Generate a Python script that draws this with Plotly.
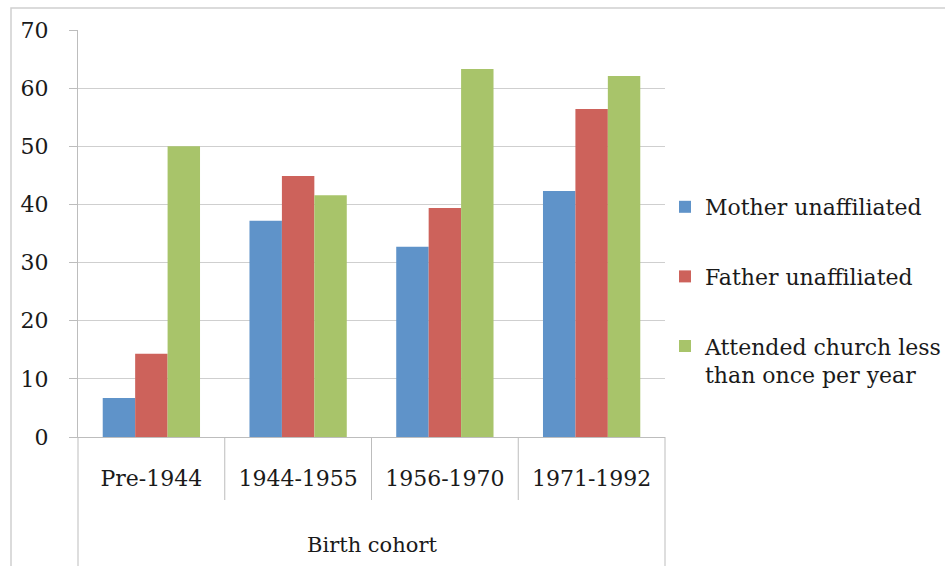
import plotly.graph_objects as go

categories = ["Pre-1944", "1944-1955", "1956-1970", "1971-1992"]
mother_unaffiliated = [6.7, 37.2, 32.7, 42.3]
father_unaffiliated = [14.3, 44.9, 39.4, 56.4]
attended_less = [50.0, 41.6, 63.3, 62.1]
series_names = ["Mother unaffiliated", "Father unaffiliated",
                "Attended church less<br>than once per year"]
colors = ["#5F93C9", "#CD625B", "#A8C46A"]
y_ticks = [0, 10, 20, 30, 40, 50, 60, 70]
x_title = "Birth cohort"

FONT = "DejaVu Serif"
W, H = 945, 566
L, R, T, B = 78, 280, 30, 129
pw, ph = W - L - R, H - T - B

fig = go.Figure()
for i, (name, vals) in enumerate(zip(series_names, [mother_unaffiliated, father_unaffiliated, attended_less])):
    fig.add_trace(go.Bar(x=categories, y=vals, name=name, marker_color=colors[i],
                         marker_line_width=0, legendgroup=str(i)))

def px_x(p):
    return (p - L) / pw

def px_y(p):
    return (H - B - p) / ph

shapes = []
n = len(categories)
for k in range(n + 1):
    xp = k / n
    y_end = px_y(570) if k in (0, n) else px_y(500)
    shapes.append(dict(type="line", xref="paper", yref="paper", x0=xp, x1=xp,
                       y0=0, y1=y_end, line=dict(color="#BDBDBD", width=1)))
shapes.append(dict(type="rect", xref="paper", yref="paper", x0=px_x(11), x1=px_x(960),
                   y0=px_y(600), y1=px_y(8), line=dict(color="#D0D0D0", width=1.5),
                   fillcolor="rgba(0,0,0,0)", layer="below"))

fig.update_layout(
    width=W, height=H,
    margin=dict(l=L, r=R, t=T, b=B, autoexpand=False),
    paper_bgcolor="white", plot_bgcolor="white",
    barmode="group", bargap=0.337, bargroupgap=0,
    font=dict(family=FONT, size=21, color="#1a1a1a"),
    showlegend=True,
    legend=dict(x=px_x(665), y=px_y(186), xanchor="left", yanchor="top",
                font=dict(family=FONT, size=22, color="#1a1a1a"),
                tracegroupgap=38, itemwidth=30, valign="top",
                bgcolor="rgba(0,0,0,0)"),
    shapes=shapes,
    annotations=[dict(text=x_title, xref="paper", yref="paper", x=0.5, y=px_y(545),
                      xanchor="center", yanchor="middle", showarrow=False,
                      font=dict(family=FONT, size=21, color="#1a1a1a"))],
)
fig.update_yaxes(range=[0, 70], tickvals=y_ticks, showgrid=True, gridcolor="#CFCFCF",
                 gridwidth=1, showline=True, linecolor="#BDBDBD", linewidth=1,
                 ticks="outside", ticklen=8, tickcolor="#BDBDBD",
                 tickfont=dict(family=FONT, size=22), zeroline=False,
                 ticklabelstandoff=16, automargin=False)
fig.update_xaxes(showline=True, linecolor="#BDBDBD", linewidth=1, ticks="",
                 tickfont=dict(family=FONT, size=22), ticklabelstandoff=22, automargin=False)

fig.write_html("out.html", config={"displayModeBar": False},
               post_script="document.body.style.margin='0';document.body.style.overflow='hidden';")
